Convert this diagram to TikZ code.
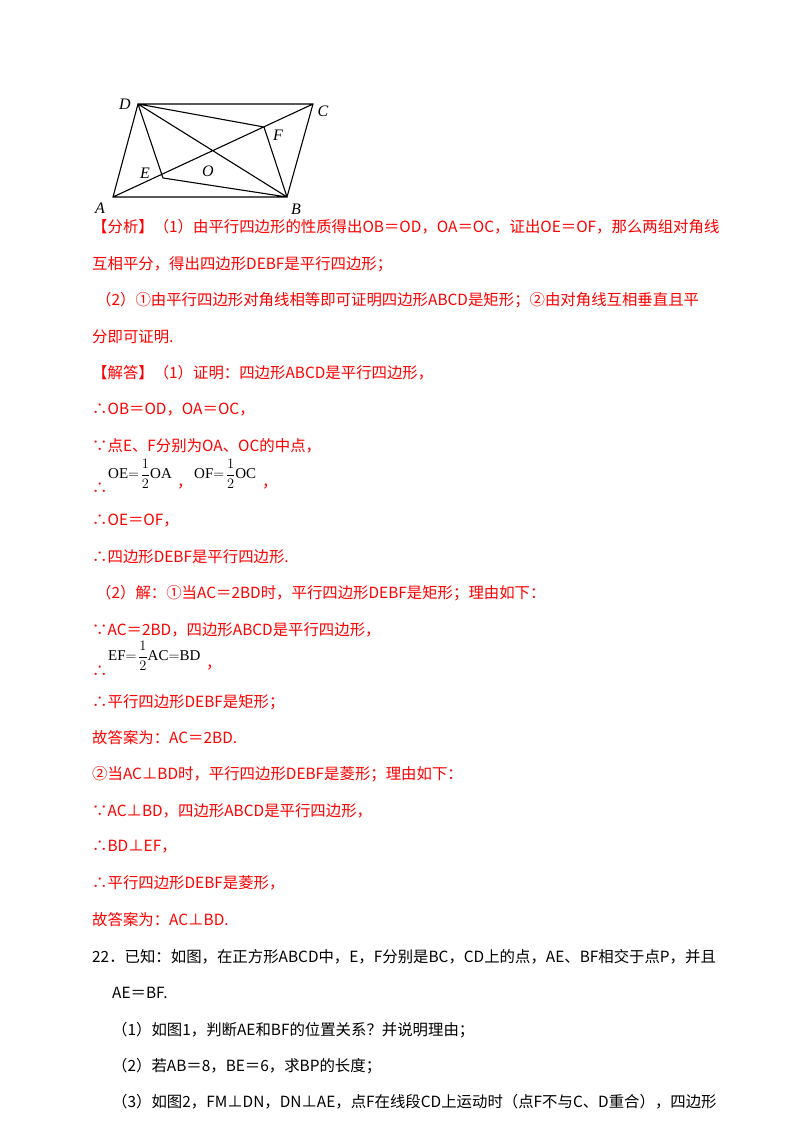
\documentclass[tikz,border=0pt]{standalone}
\usepackage{fontspec}
\setmainfont{Liberation Serif}
\newfontfamily\cjk{Noto Sans CJK SC}
\begin{document}
\begin{tikzpicture}[x=1pt,y=-1pt,
  ln/.style={anchor=west,inner sep=0pt,font=\cjk\fontsize{15.4}{17}\selectfont,text=red},
  bk/.style={ln,text=black},
  fr/.style={anchor=west,inner sep=0pt,font=\fontsize{15}{16}\selectfont},
  pt/.style={font=\itshape\fontsize{16}{18}\selectfont,inner sep=1pt},
  seg/.style={line width=1.1pt}]
\useasboundingbox (0,0) rectangle (800,1132);
\coordinate (A) at (113,197); \coordinate (B) at (287,197);
\coordinate (C) at (313,104); \coordinate (D) at (138,104);
\coordinate (O) at (213,150.5); \coordinate (E) at (163,178); \coordinate (F) at (264,127);
\draw[seg] (A)--(B)--(C)--(D)--cycle (A)--(C) (B)--(D) (D)--(E)--(B)--(F)--cycle;
\node[pt] at (125,104) {D}; \node[pt] at (323,111) {C};
\node[pt] at (100,208) {A}; \node[pt] at (296,209) {B};
\node[pt] at (145,173) {E}; \node[pt] at (278,135) {F}; \node[pt] at (208,171) {O};
\node[ln] (l1) at (92,227) {【分析】（1）由平行四边形的性质得出OB＝OD，OA＝OC，证出OE＝OF，那么两组对角线};
\node[ln] (l2) at (92,264) {互相平分，得出四边形DEBF是平行四边形；};
\node[ln] (l3) at (96,300) {（2）①由平行四边形对角线相等即可证明四边形ABCD是矩形；②由对角线互相垂直且平};
\node[ln] (l4) at (92,337) {分即可证明.};
\node[ln] (l5) at (92,373) {【解答】（1）证明：四边形ABCD是平行四边形，};
\node[ln] (l6) at (92,410) {∴OB＝OD，OA＝OC，};
\node[ln] (l7) at (92,446) {∵点E、F分别为OA、OC的中点，};
\node[ln] (l8) at (92,488) {∴};
\node[fr] (f1) at (108,474) {OE$=\!\displaystyle\frac{1}{2}$OA};
\node[ln] at (177,487) {，};
\node[fr] (f2) at (194,474) {OF$=\!\displaystyle\frac{1}{2}$OC};
\node[ln] at (262,487) {，};
\node[ln] (l9) at (92,521) {∴OE＝OF，};
\node[ln] (l10) at (92,557) {∴四边形DEBF是平行四边形.};
\node[ln] (l11) at (96,593) {（2）解：①当AC＝2BD时，平行四边形DEBF是矩形；理由如下：};
\node[ln] (l12) at (92,630) {∵AC＝2BD，四边形ABCD是平行四边形，};
\node[ln] (l13) at (92,671) {∴};
\node[fr] (f3) at (108,656) {EF$=\!\displaystyle\frac{1}{2}$AC$=$BD};
\node[ln] at (206,668) {，};
\node[ln] (l14) at (92,702) {∴平行四边形DEBF是矩形；};
\node[ln] (l15) at (92,738) {故答案为：AC＝2BD.};
\node[ln] (l16) at (92,774) {②当AC⊥BD时，平行四边形DEBF是菱形；理由如下：};
\node[ln] (l17) at (92,811) {∵AC⊥BD，四边形ABCD是平行四边形，};
\node[ln] (l18) at (92,847) {∴BD⊥EF，};
\node[ln] (l19) at (92,883) {∴平行四边形DEBF是菱形，};
\node[ln] (l20) at (92,920) {故答案为：AC⊥BD.};
\node[bk] (q1) at (92,957) {22．已知：如图，在正方形ABCD中，E，F分别是BC，CD上的点，AE、BF相交于点P，并且};
\node[bk] (q2) at (112,993) {AE＝BF.};
\node[bk] (q3) at (112,1030) {（1）如图1，判断AE和BF的位置关系？并说明理由；};
\node[bk] (q4) at (112,1066) {（2）若AB＝8，BE＝6，求BP的长度；};
\node[bk] (q5) at (112,1102) {（3）如图2，FM⊥DN，DN⊥AE，点F在线段CD上运动时（点F不与C、D重合），四边形};
\end{tikzpicture}
\end{document}
